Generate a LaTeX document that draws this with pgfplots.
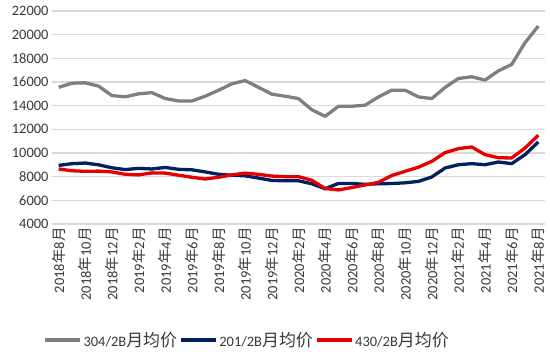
\documentclass[border=0pt]{standalone}
\usepackage{fontspec}
\setmainfont{Carlito}
\newfontfamily\cjk{Noto Sans CJK SC}
\usepackage{pgfplots}
\pgfplotsset{compat=1.18}
\usepackage{pgfplotstable}
\definecolor{cgray}{HTML}{7F7F7F}
\definecolor{cnavy}{HTML}{002060}
\definecolor{cred}{HTML}{E60000}
\newcommand{\ym}[2]{#1{\cjk 年}#2{\cjk 月}}

\pgfplotstableread{
i g n r
0 15550 8950 8650
1 15900 9100 8500
2 15930 9150 8450
3 15650 9000 8470
4 14850 8750 8400
5 14750 8600 8200
6 15000 8700 8150
7 15100 8650 8320
8 14600 8780 8300
9 14400 8620 8120
10 14400 8580 7950
11 14800 8400 7800
12 15300 8200 7950
13 15850 8120 8150
14 16120 8070 8300
15 15550 7880 8200
16 14970 7680 8050
17 14800 7650 8000
18 14600 7650 8000
19 13650 7400 7700
20 13100 6980 7000
21 13950 7430 6880
22 13950 7430 7080
23 14040 7350 7300
24 14740 7400 7520
25 15310 7420 8100
26 15310 7480 8450
27 14740 7600 8800
28 14600 7970 9290
29 15540 8730 10030
30 16300 9010 10370
31 16440 9100 10510
32 16160 9010 9860
33 16940 9240 9600
34 17480 9100 9580
35 19320 9860 10420
36 20730 10930 11500
}\data

\begin{document}
\begin{tikzpicture}
\path[use as bounding box] (0,0) rectangle (550bp,352bp);
\begin{axis}[
 at={(52bp,128bp)}, anchor=south west,
 scale only axis, width=493bp, height=213bp,
 xmin=-0.5, xmax=36.5, ymin=4000, ymax=22000,
 scaled ticks=false,
 ytick={4000,6000,...,22000},
 xtick={0,2,...,36},
 xticklabels={\ym{2018}{8},\ym{2018}{10},\ym{2018}{12},\ym{2019}{2},\ym{2019}{4},\ym{2019}{6},\ym{2019}{8},\ym{2019}{10},\ym{2019}{12},\ym{2020}{2},\ym{2020}{4},\ym{2020}{6},\ym{2020}{8},\ym{2020}{10},\ym{2020}{12},\ym{2021}{2},\ym{2021}{4},\ym{2021}{6},\ym{2021}{8}},
 ymajorgrids, grid style={draw=black!15, line width=1.2bp},
 axis line style={draw=none},
 major tick length=0pt,
 tick label style={font=\fontsize{14.5}{15}\selectfont, text=black!78},
 xticklabel style={rotate=90, anchor=east},
 /pgf/number format/assume math mode=true,
 /pgf/number format/set thousands separator={},
 legend columns=3,
 legend style={at={(0.3955,-0.545)}, anchor=center, draw=none, fill=none,
   font=\fontsize{14.5}{15}\selectfont, text=black!78,
   /tikz/every even column/.append style={column sep=0bp}},
 legend image code/.code={\draw[#1] (0bp,0bp) -- (35bp,0bp);},
 every axis plot/.append style={line width=3.3bp, line join=round, mark=none},
]
\addplot[cgray] table[x=i,y=g]{\data};
\addlegendentry{304/2B{\cjk\fontsize{17}{17}\selectfont 月均价}}
\addplot[cnavy] table[x=i,y=n]{\data};
\addlegendentry{201/2B{\cjk\fontsize{17}{17}\selectfont 月均价}}
\addplot[cred] table[x=i,y=r]{\data};
\addlegendentry{430/2B{\cjk\fontsize{17}{17}\selectfont 月均价}}
\end{axis}
\end{tikzpicture}
\end{document}
